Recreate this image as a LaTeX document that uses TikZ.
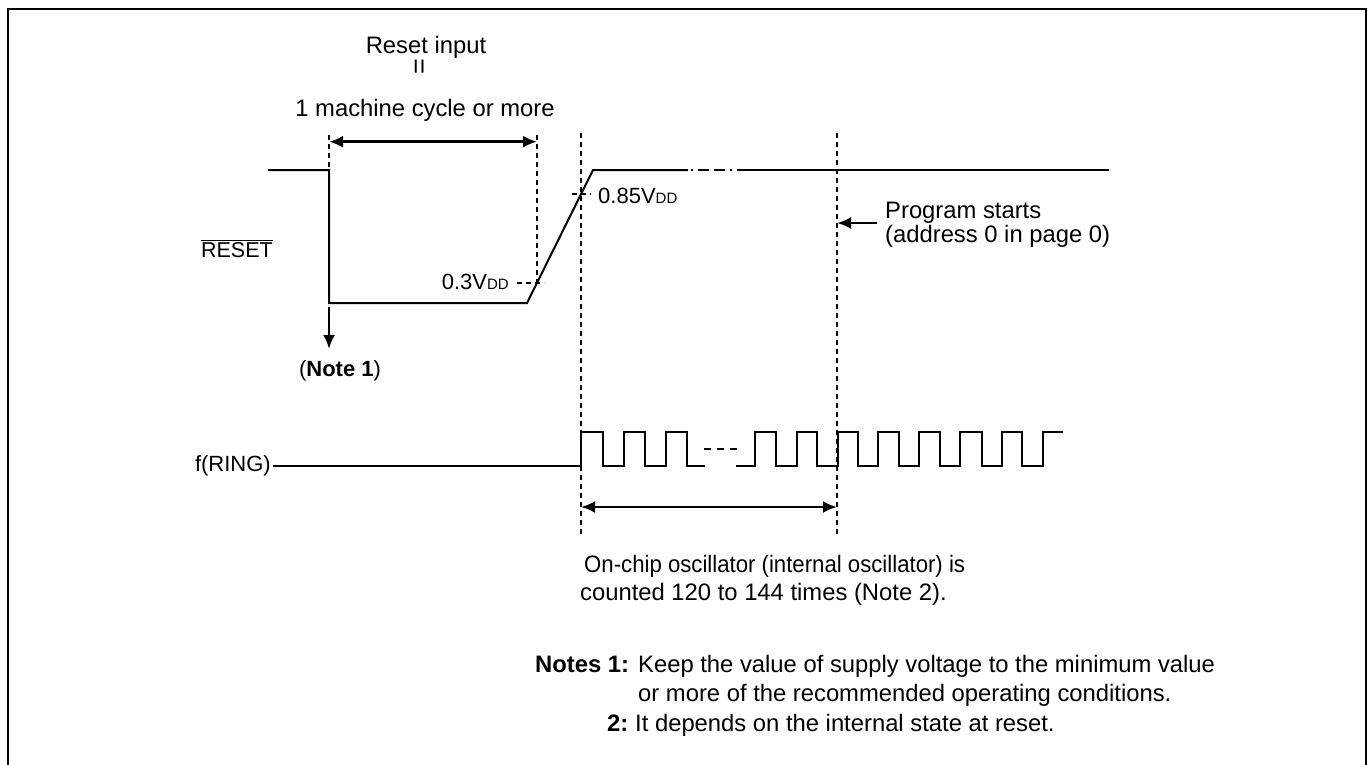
\documentclass[tikz,border=0pt]{standalone}
\usepackage{fontspec}
\setmainfont{Liberation Sans}
\usetikzlibrary{arrows.meta}
\newcommand\fsz[1]{\fontsize{#1}{#1}\selectfont}
\newcommand\vdd{V{\fsz{15}DD}}
\tikzset{
  sig/.style={line width=2pt, line join=miter},
  guide/.style={line width=1.2pt, dash pattern=on 5pt off 4pt},
  tick/.style={line width=1.2pt, dash pattern=on 5pt off 4pt},
  frame/.style={line width=2.2pt},
  tipx/.tip={Latex[length=14pt,width=12pt]},
  dimarrow/.style={line width=2.6pt, tipx-tipx},
  onearrow/.style={line width=2.6pt, -tipx},
  lbl/.style={inner sep=0pt, font=\fsz{22}},
  biglbl/.style={inner sep=0pt, font=\fsz{23.8}},
  smllbl/.style={inner sep=0pt, font=\fsz{21.5}},
}
\begin{document}
\begin{tikzpicture}[x=1pt,y=-1pt]
\useasboundingbox (0,0) rectangle (1370,765);
\draw[frame] (8,775) -- (8,9) -- (1366,9) -- (1366,775);

% coordinates
\coordinate (rs0) at (268,170);
\coordinate (fall) at (329,170);
\coordinate (lowA) at (329,303);
\coordinate (lowB) at (527,303);
\coordinate (rampTop) at (593,170);
\coordinate (brk1) at (688,170);
\coordinate (brk2) at (691,170);
\coordinate (brk3) at (745,170);
\coordinate (rsEnd) at (1109,170);

% guides
\coordinate (g1a) at (329,135); \coordinate (g1b) at (329,170);
\coordinate (g2a) at (537,135); \coordinate (g2b) at (537,287);
\coordinate (g3a) at (581,133); \coordinate (g3b) at (581,535);
\coordinate (g4a) at (837,133); \coordinate (g4b) at (837,535);
\draw[guide] (g1a) -- (g1b);
\draw[guide] (g2a) -- (g2b);
\draw[guide] (g3a) -- (g3b);
\draw[guide] (g4a) -- (g4b);

% RESET waveform
\draw[sig] (rs0) -- (fall) -- (lowA) -- (lowB) -- (rampTop) -- (brk1);
\draw[sig, dash pattern=on 2pt off 5pt on 11pt off 5pt on 11pt off 5pt] (brk2) -- (brk3);
\draw[sig] (brk3) -- (rsEnd);

% level ticks
\coordinate (t85a) at (572,194); \coordinate (t85b) at (591,194);
\coordinate (t30a) at (517,283); \coordinate (t30b) at (544,283);
\draw[tick] (t85a) -- (t85b);
\draw[tick] (t30a) -- (t30b);

% labels top
\node[biglbl, anchor=base] (resetin) at (426,54) {Reset input};
\node[inner sep=0pt, font=\fsz{27}] (eqsign) at (422,67) {\rotatebox{90}{=}};
\node[biglbl, anchor=base] (cycle) at (425,117) {1 machine cycle or more};
\coordinate (cycL) at (329,141.7); \coordinate (cycR) at (537,141.7);
\draw[dimarrow] (cycL) -- (cycR);

\node[smllbl, anchor=base east] (resetlbl) at (273,257) {$\overline{\mbox{RESET}}$};
\node[lbl, anchor=base east] (v30) at (509,289) {0.3\vdd};
\node[lbl, anchor=base west] (v85) at (598,203) {0.85\vdd};

% Note 1 arrow
\coordinate (n1a) at (329,307); \coordinate (n1b) at (329,349);
\draw[onearrow] (n1a) -- (n1b);
\node[lbl, anchor=base] (note1) at (340,376) {(\textbf{Note 1})};

% program starts
\node[biglbl, anchor=base west] (prog1) at (885,218) {Program starts};
\node[biglbl, anchor=base west] (prog2) at (885,242) {(address 0 in page 0)};
\coordinate (pa) at (877,223); \coordinate (pb) at (837,223);
\draw[onearrow] (pa) -- (pb);

% f(RING)
\node[lbl, anchor=base east] (fring) at (271,471) {f(RING)};
\coordinate (fr0) at (273,466);
\draw[sig] (fr0) -- (581,466) -- (581,432) -- (603,432) -- (603,466) -- (624,466) -- (624,432)
  -- (645,432) -- (645,466) -- (666,466) -- (666,432) -- (687,432) -- (687,466) -- (705,466);
\coordinate (fd1) at (704,449); \coordinate (fd2) at (737,449);
\draw[line width=2pt, dash pattern=on 7pt off 6pt] (fd1) -- (fd2);
\draw[sig] (736,466) -- (755,466) -- (755,432) -- (776,432) -- (776,466) -- (797,466) -- (797,432)
  -- (817,432) -- (817,466) -- (838,466) -- (838,432) -- (858,432) -- (858,466) -- (878,466)
  -- (878,432) -- (899,432) -- (899,466) -- (919,466) -- (919,432) -- (940,432) -- (940,466)
  -- (960,466) -- (960,432) -- (982,432) -- (982,466) -- (1002,466) -- (1002,432) -- (1022,432)
  -- (1022,466) -- (1043,466) -- (1043,432) -- (1063,432);

% count arrow
\coordinate (cntL) at (581,507); \coordinate (cntR) at (837,507);
\draw[dimarrow] (cntL) -- (cntR);
\node[biglbl, anchor=base west] (osc1) at (584,572) {\scalebox{0.932}[1]{On-chip oscillator (internal oscillator) is}};
\node[biglbl, anchor=base west] (osc2) at (580,600) {counted 120 to 144 times (Note 2).};

% notes
\node[biglbl, anchor=base west] (notes1h) at (535,672) {\textbf{Notes 1:}};
\node[biglbl, anchor=base west] (notes1a) at (638,672) {Keep the value of supply voltage to the minimum value};
\node[biglbl, anchor=base west] (notes1b) at (638,701) {or more of the recommended operating conditions.};
\node[biglbl, anchor=base west] (notes2h) at (607,731) {\textbf{2:}};
\node[biglbl, anchor=base west] (notes2a) at (635,731) {It depends on the internal state at reset.};
\end{tikzpicture}
\end{document}
